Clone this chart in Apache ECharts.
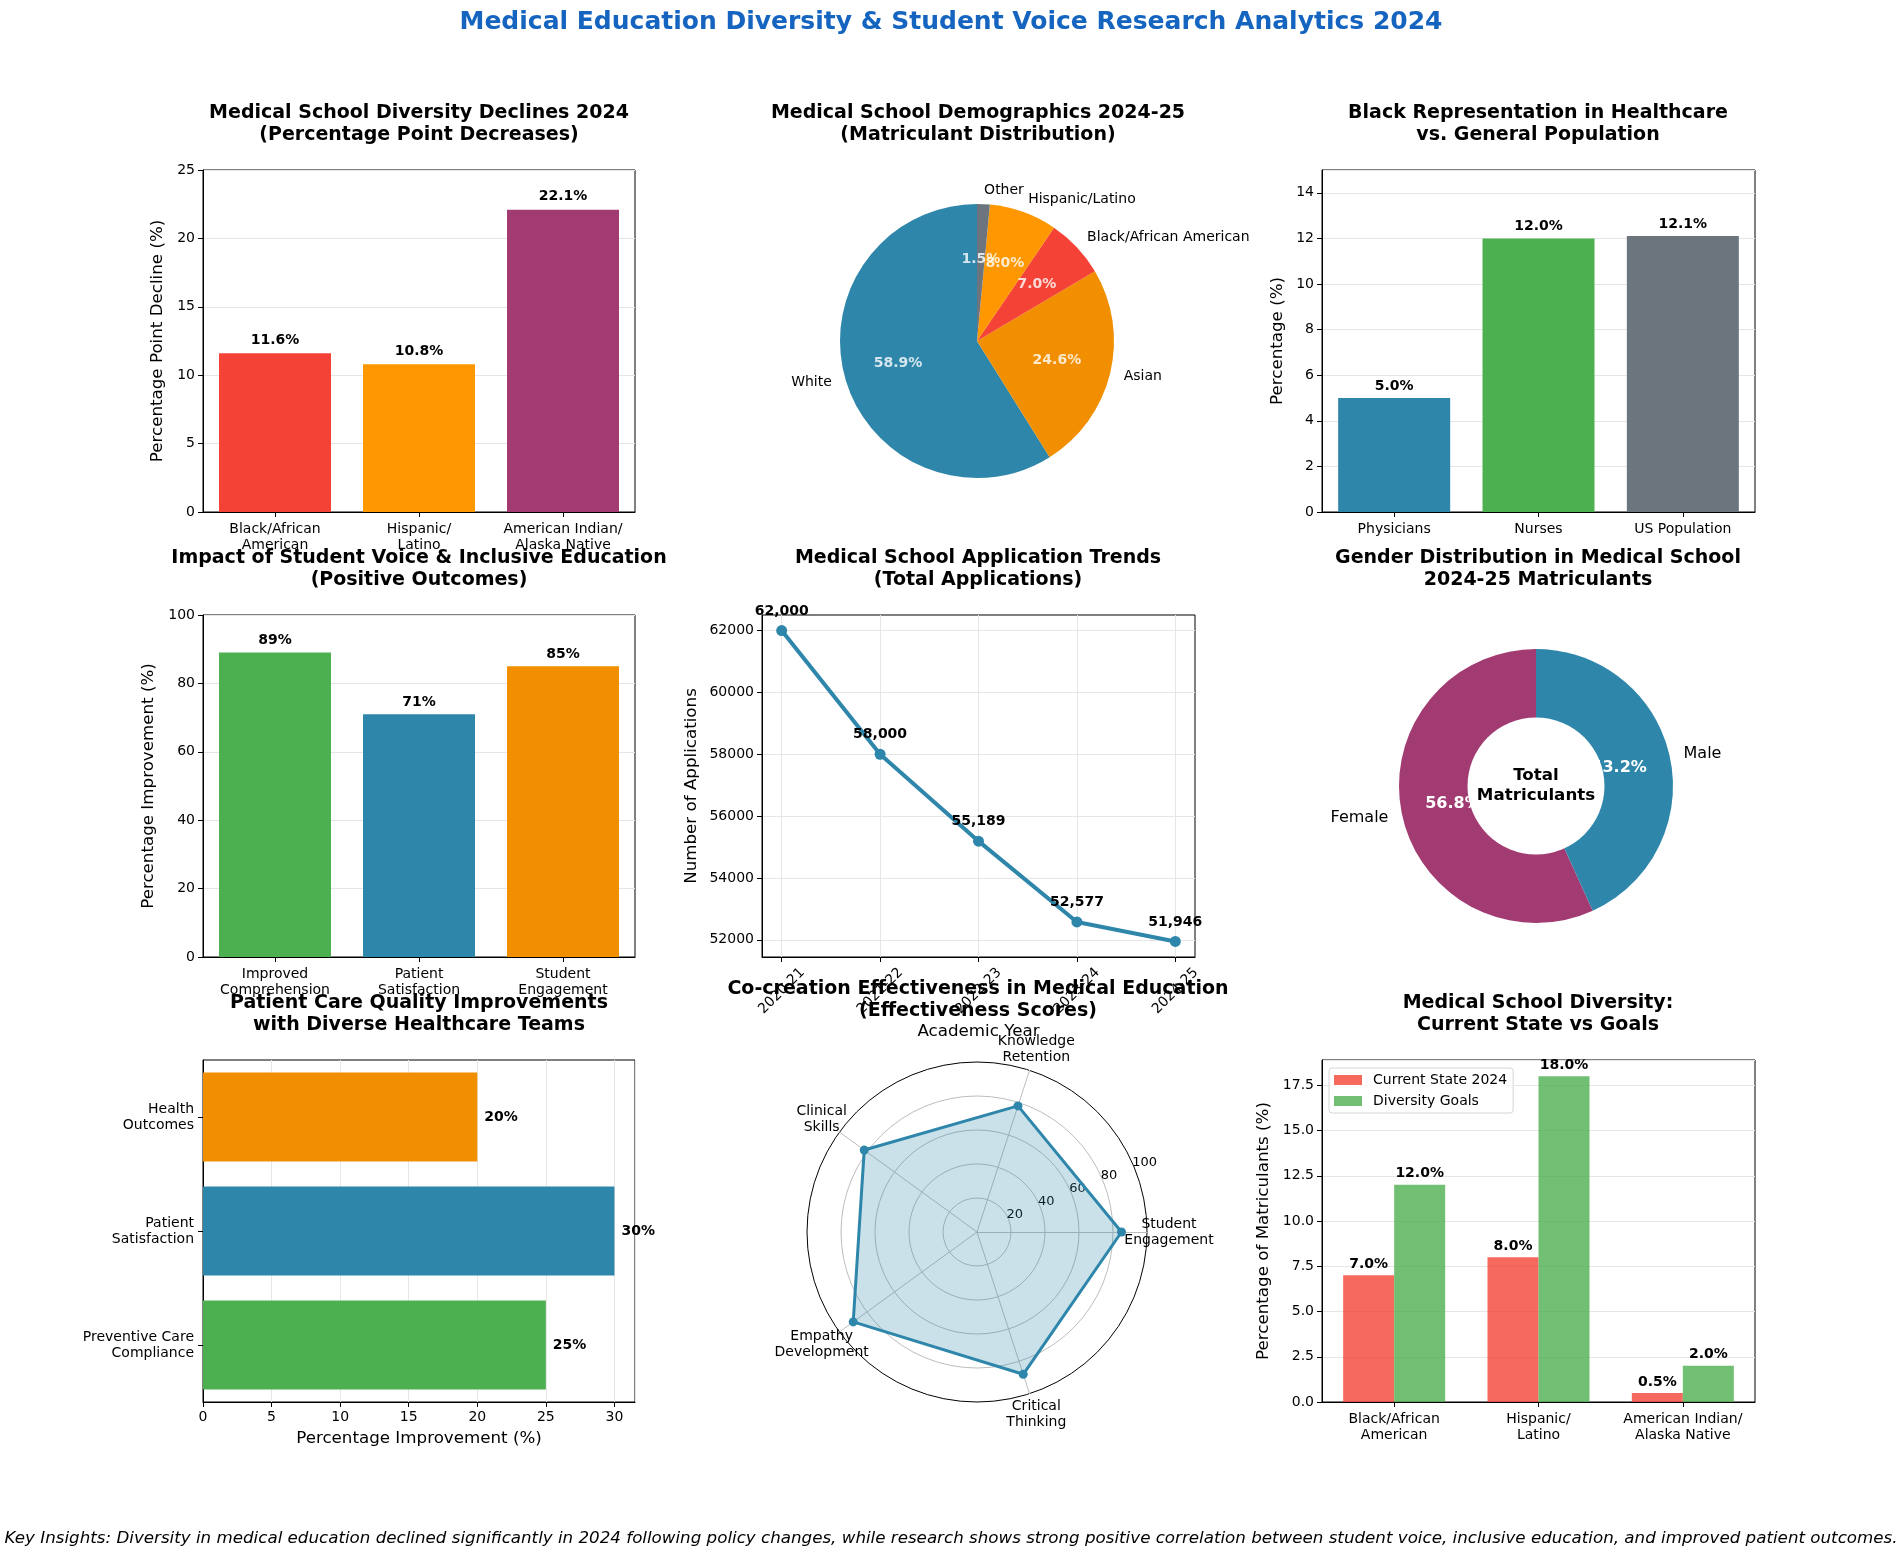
<!DOCTYPE html>
<html>
<head>
<meta charset="utf-8">
<script src="https://cdn.jsdelivr.net/npm/echarts@6.0.0/dist/echarts.min.js"></script>
<style>
  html, body { margin: 0; padding: 0; background: #fff; }
  #chart { width: 1903px; height: 1560px; }
</style>
</head>
<body>
<div id="chart"></div>
<script>
// ---- data ----
const declineCats = ['Black/African\nAmerican', 'Hispanic/\nLatino', 'American Indian/\nAlaska Native'];
const declineVals = [11.6, 10.8, 22.1];
const declineColors = ['#F44336', '#FF9800', '#A23B72'];

const demoNames = ['White', 'Asian', 'Black/African American', 'Hispanic/Latino', 'Other'];
const demoVals = [58.9, 24.6, 7.0, 8.0, 1.5];
const demoColors = ['#2E86AB', '#F18F01', '#F44336', '#FF9800', '#6C757D'];

const repCats = ['Physicians', 'Nurses', 'US Population'];
const repVals = [5.0, 12.0, 12.1];
const repColors = ['#2E86AB', '#4CAF50', '#6C757D'];

const voiceCats = ['Improved\nComprehension', 'Patient\nSatisfaction', 'Student\nEngagement'];
const voiceVals = [89, 71, 85];
const voiceColors = ['#4CAF50', '#2E86AB', '#F18F01'];

const years = ['2020-21', '2021-22', '2022-23', '2023-24', '2024-25'];
const applications = [62000, 58000, 55189, 52577, 51946];
const appTicks = [52000, 54000, 56000, 58000, 60000, 62000];

const genderNames = ['Female', 'Male'];
const genderVals = [56.8, 43.2];
const genderColors = ['#A23B72', '#2E86AB'];

const careCats = ['Preventive Care\nCompliance', 'Patient\nSatisfaction', 'Health\nOutcomes'];
const careVals = [25, 30, 20];
const careColors = ['#4CAF50', '#2E86AB', '#F18F01'];

const cocreateDims = ['Student\nEngagement', 'Knowledge\nRetention', 'Clinical\nSkills', 'Empathy\nDevelopment', 'Critical\nThinking'];
const cocreateScores = [85, 78, 82, 90, 88];

const goalCats = ['Black/African\nAmerican', 'Hispanic/\nLatino', 'American Indian/\nAlaska Native'];
const currentVals = [7.0, 8.0, 0.5];
const goalVals = [12.0, 18.0, 2.0];

// ---- helpers ----
const FONT = 'DejaVu Sans';
const GRIDLINE = { show: true, lineStyle: { color: '#e6e6e6', width: 1 } };

const grids = [
  { left: 203, top: 170, width: 432, height: 342 },   // declines
  { left: 1322, top: 170, width: 433, height: 342 },  // representation
  { left: 203, top: 615, width: 432, height: 342 },   // student voice
  { left: 762, top: 615, width: 433, height: 342 },   // applications
  { left: 203, top: 1060, width: 432, height: 342 },  // patient care
  { left: 1322, top: 1060, width: 433, height: 342 }  // goals
].map(g => Object.assign({ show: true, borderColor: '#000', borderWidth: 1, backgroundColor: 'transparent' }, g));

function catAxis(idx, data, extra) {
  return Object.assign({
    type: 'category', gridIndex: idx, data: data,
    axisLine: { show: true, lineStyle: { color: '#000' } },
    axisTick: { show: true, alignWithLabel: true, length: 5, lineStyle: { color: '#000' } },
    axisLabel: { color: '#000', fontSize: 14, lineHeight: 16, margin: 9, interval: 0, fontFamily: FONT },
    splitLine: { show: false }
  }, extra);
}

function valAxis(idx, extra) {
  return Object.assign({
    type: 'value', gridIndex: idx,
    axisLine: { show: true, onZero: false, lineStyle: { color: '#000' } },
    axisTick: { show: true, length: 5, lineStyle: { color: '#000' } },
    axisLabel: { color: '#000', fontSize: 14, margin: 8, fontFamily: FONT },
    splitLine: GRIDLINE,
    nameLocation: 'middle',
    nameTextStyle: { color: '#000', fontSize: 16.7, fontFamily: FONT }
  }, extra);
}

function subTitle(text, x, top) {
  return {
    text: text, left: x, top: top, textAlign: 'center', padding: 0,
    textStyle: { fontSize: 19, fontWeight: 'bold', color: '#000', lineHeight: 22, fontFamily: FONT }
  };
}

function coloredBars(vals, colors) {
  return vals.map((v, i) => ({ value: v, itemStyle: { color: colors[i] } }));
}

function topLabel(fmt, dist) {
  return { show: true, position: 'top', distance: dist, color: '#000', fontWeight: 'bold', fontSize: 14, fontFamily: FONT, formatter: fmt };
}

const pct1 = p => p.value.toFixed(1) + '%';
const pct0 = p => p.value + '%';

// mid-angle (in percent of the pie) of each demographic slice, for the inner labels
const demoMid = demoVals.map((v, i) => demoVals.slice(0, i).reduce((a, b) => a + b, 0) + v / 2);

const option = {
  animation: false,
  backgroundColor: '#fff',
  textStyle: { fontFamily: FONT },
  title: [
    { text: 'Medical Education Diversity & Student Voice Research Analytics 2024', left: 951, top: 7, textAlign: 'center', padding: 0,
      textStyle: { fontSize: 25, fontWeight: 'bold', color: '#1565C0', lineHeight: 30, fontFamily: FONT } },
    subTitle('Medical School Diversity Declines 2024\n(Percentage Point Decreases)', 419, 102),
    subTitle('Medical School Demographics 2024-25\n(Matriculant Distribution)', 978, 102),
    subTitle('Black Representation in Healthcare\nvs. General Population', 1538, 102),
    subTitle('Impact of Student Voice & Inclusive Education\n(Positive Outcomes)', 419, 547),
    subTitle('Medical School Application Trends\n(Total Applications)', 978, 547),
    subTitle('Gender Distribution in Medical School\n2024-25 Matriculants', 1538, 547),
    subTitle('Patient Care Quality Improvements\nwith Diverse Healthcare Teams', 419, 992),
    subTitle('Co-creation Effectiveness in Medical Education\n(Effectiveness Scores)', 978, 978),
    subTitle('Medical School Diversity:\nCurrent State vs Goals', 1538, 992),
    { text: 'Key Insights: Diversity in medical education declined significantly in 2024 following policy changes, while research shows strong positive correlation between student voice, inclusive education, and improved patient outcomes.',
      left: 951, top: 1529, textAlign: 'center', padding: 0,
      textStyle: { fontSize: 16.7, fontStyle: 'italic', fontWeight: 'normal', color: '#000', lineHeight: 20, fontFamily: FONT } }
  ],
  legend: {
    data: ['Current State 2024', 'Diversity Goals'],
    orient: 'vertical', left: 1329, top: 1068,
    icon: 'rect', itemWidth: 28, itemHeight: 10, itemGap: 7,
    padding: [5, 6, 5, 5],
    borderColor: '#d6d6d6', borderWidth: 1, borderRadius: 3,
    backgroundColor: 'rgba(255,255,255,0.8)',
    textStyle: { fontSize: 14, color: '#000', fontFamily: FONT, padding: [0, 0, 0, 6] }
  },
  grid: grids,
  xAxis: [
    catAxis(0, declineCats),
    catAxis(1, repCats),
    catAxis(2, voiceCats),
    valAxis(3, {
      min: -0.2, max: 4.2,
      name: 'Academic Year', nameGap: 66,
      axisTick: { show: true, length: 5, lineStyle: { color: '#000' }, customValues: [0, 1, 2, 3, 4] },
      axisLabel: { color: '#000', fontSize: 14, fontFamily: FONT, rotate: 45, align: 'center', verticalAlign: 'middle', margin: 34,
        customValues: [0, 1, 2, 3, 4], formatter: v => years[Math.round(v)] },
      splitLine: GRIDLINE
    }),
    valAxis(4, {
      min: 0, max: 31.5, interval: 5,
      name: 'Percentage Improvement (%)', nameGap: 28,
      axisLabel: { color: '#000', fontSize: 14, margin: 8, fontFamily: FONT, showMaxLabel: false }
    }),
    catAxis(5, goalCats)
  ],
  yAxis: [
    valAxis(0, { min: 0, max: 25, interval: 5, name: 'Percentage Point Decline (%)', nameGap: 37 }),
    valAxis(1, { min: 0, max: 15, interval: 2, name: 'Percentage (%)', nameGap: 36,
      axisLabel: { color: '#000', fontSize: 14, margin: 8, fontFamily: FONT, showMaxLabel: false } }),
    valAxis(2, { min: 0, max: 100, interval: 20, name: 'Percentage Improvement (%)', nameGap: 46 }),
    valAxis(3, {
      min: 51443, max: 62503,
      name: 'Number of Applications', nameGap: 62,
      axisTick: { show: true, length: 5, lineStyle: { color: '#000' }, customValues: appTicks },
      axisLabel: { color: '#000', fontSize: 14, margin: 8, fontFamily: FONT, customValues: appTicks, formatter: v => String(v) }
    }),
    catAxis(4, careCats, {
      axisLabel: { color: '#000', fontSize: 14, lineHeight: 16, margin: 9, interval: 0, fontFamily: FONT, align: 'right' }
    }),
    valAxis(5, { min: 0, max: 18.9, interval: 2.5, name: 'Percentage of Matriculants (%)', nameGap: 50,
      axisLabel: { color: '#000', fontSize: 14, margin: 8, fontFamily: FONT, showMaxLabel: false, formatter: v => v.toFixed(1) } })
  ],
  radar: {
    center: [977, 1232], radius: 170, startAngle: 0, shape: 'circle', splitNumber: 5,
    indicator: cocreateDims.map(n => ({ name: n, min: 0, max: 100 })),
    nameGap: 22,
    axisName: { color: '#000', fontSize: 14, lineHeight: 16, fontFamily: FONT, align: 'center', verticalAlign: 'middle' },
    splitLine: { lineStyle: { color: ['#bdbdbd', '#bdbdbd', '#bdbdbd', '#bdbdbd', '#bdbdbd', '#000'], width: 1 } },
    splitArea: { show: false },
    axisLine: { lineStyle: { color: '#bdbdbd', width: 1 } },
    axisTick: { show: false },
    axisLabel: { show: false }
  },
  polar: [
    { center: [977, 1232], radius: 170 },   // radial tick labels of the radar
    { center: [977, 341], radius: 137 }     // percentage labels of the demographics pie
  ],
  angleAxis: [
    { polarIndex: 0, type: 'value', min: 0, max: 360, startAngle: 22.5, show: false },
    { polarIndex: 1, type: 'value', min: 0, max: 100, startAngle: 90, clockwise: false, show: false }
  ],
  radiusAxis: [
    {
      polarIndex: 0, type: 'value', min: 0, max: 100, interval: 20,
      axisLine: { show: false }, axisTick: { show: false }, splitLine: { show: false },
      axisLabel: { show: true, color: '#000', fontSize: 13, fontFamily: FONT, margin: 5, align: 'left', verticalAlign: 'middle', showMinLabel: false }
    },
    { polarIndex: 1, type: 'value', min: 0, max: 1, show: false }
  ],
  graphic: [
    { type: 'circle', shape: { cx: 1536, cy: 786, r: 68.5 }, style: { fill: '#fff' }, z: 100, silent: true },
    { type: 'text', x: 1536, y: 786, z: 101, silent: true,
      style: { text: 'Total\nMatriculants', font: 'bold 16.7px "DejaVu Sans"', fill: '#000', align: 'center', verticalAlign: 'middle', lineHeight: 20 } }
  ],
  series: [
    { type: 'bar', xAxisIndex: 0, yAxisIndex: 0, barWidth: 112, data: coloredBars(declineVals, declineColors), label: topLabel(pct1, 6), silent: true },
    { type: 'bar', xAxisIndex: 1, yAxisIndex: 1, barWidth: 112, data: coloredBars(repVals, repColors), label: topLabel(pct1, 5), silent: true },
    { type: 'bar', xAxisIndex: 2, yAxisIndex: 2, barWidth: 112, data: coloredBars(voiceVals, voiceColors), label: topLabel(pct0, 5), silent: true },
    {
      type: 'line', xAxisIndex: 3, yAxisIndex: 3,
      data: applications.map((v, i) => [i, v]),
      symbol: 'circle', symbolSize: 11,
      lineStyle: { color: '#2E86AB', width: 4 }, itemStyle: { color: '#2E86AB' },
      label: { show: true, position: 'top', distance: 7, color: '#000', fontWeight: 'bold', fontSize: 14, fontFamily: FONT,
        formatter: p => p.value[1].toLocaleString('en-US') },
      silent: true
    },
    {
      type: 'bar', xAxisIndex: 4, yAxisIndex: 4, barWidth: 89,
      data: coloredBars(careVals, careColors),
      label: { show: true, position: 'right', distance: 7, color: '#000', fontWeight: 'bold', fontSize: 14, fontFamily: FONT, formatter: pct0 },
      silent: true
    },
    {
      name: 'Current State 2024', type: 'bar', xAxisIndex: 5, yAxisIndex: 5, barWidth: 51, barGap: '0%',
      data: currentVals, itemStyle: { color: 'rgba(244,67,54,0.8)' }, label: topLabel(pct1, 4), silent: true
    },
    {
      name: 'Diversity Goals', type: 'bar', xAxisIndex: 5, yAxisIndex: 5, barWidth: 51, barGap: '0%',
      data: goalVals, itemStyle: { color: 'rgba(76,175,80,0.8)' }, label: topLabel(pct1, 4), silent: true
    },
    {
      type: 'pie', center: [977, 341], radius: [0, 137], startAngle: 90, clockwise: false, avoidLabelOverlap: false, silent: true,
      data: demoNames.map((n, i) => ({ name: n, value: demoVals[i], itemStyle: { color: demoColors[i] } })),
      label: { show: true, position: 'outside', color: '#000', fontSize: 14, fontFamily: FONT, distanceToLabelLine: 0 },
      labelLine: { show: false, length: 14, length2: 0 },
      emphasis: { disabled: true }
    },
    {
      type: 'scatter', coordinateSystem: 'polar', polarIndex: 1, silent: true, z: 5,
      symbolSize: 0,
      itemStyle: { color: 'rgba(0,0,0,0)' },
      data: demoVals.map((v, i) => [0.6, demoMid[i]]),
      label: { show: true, position: 'inside', color: '#fff', textBorderWidth: 0, textBorderColor: 'transparent',
        fontWeight: 'bold', fontSize: 14, fontFamily: FONT,
        formatter: p => demoVals[p.dataIndex].toFixed(1) + '%' }
    },
    {
      type: 'pie', center: [1536, 786], radius: [0, 137], startAngle: 90, clockwise: false, avoidLabelOverlap: false, silent: true,
      data: genderNames.map((n, i) => ({ name: n, value: genderVals[i], itemStyle: { color: genderColors[i] } })),
      label: { show: true, position: 'outside', color: '#000', fontSize: 16, fontFamily: FONT, distanceToLabelLine: 0 },
      labelLine: { show: false, length: 14, length2: 0 },
      emphasis: { disabled: true }
    },
    {
      type: 'pie', center: [1536, 786], radius: [0, 164], startAngle: 90, clockwise: false, avoidLabelOverlap: false, silent: true,
      data: genderNames.map((n, i) => ({ name: n, value: genderVals[i], itemStyle: { color: 'rgba(0,0,0,0)' } })),
      label: { show: true, position: 'inside', color: '#fff', fontWeight: 'bold', fontSize: 16, fontFamily: FONT, formatter: pct1 },
      emphasis: { disabled: true }
    },
    {
      type: 'radar', radarIndex: 0, silent: true,
      data: [{ name: 'Effectiveness', value: cocreateScores }],
      symbol: 'circle', symbolSize: 9,
      lineStyle: { color: '#2E86AB', width: 3 },
      itemStyle: { color: '#2E86AB' },
      areaStyle: { color: '#2E86AB', opacity: 0.25 }
    }
  ]
};

const chart = echarts.init(document.getElementById('chart'), null, { renderer: 'canvas' });
chart.setOption(option);
</script>
</body>
</html>
